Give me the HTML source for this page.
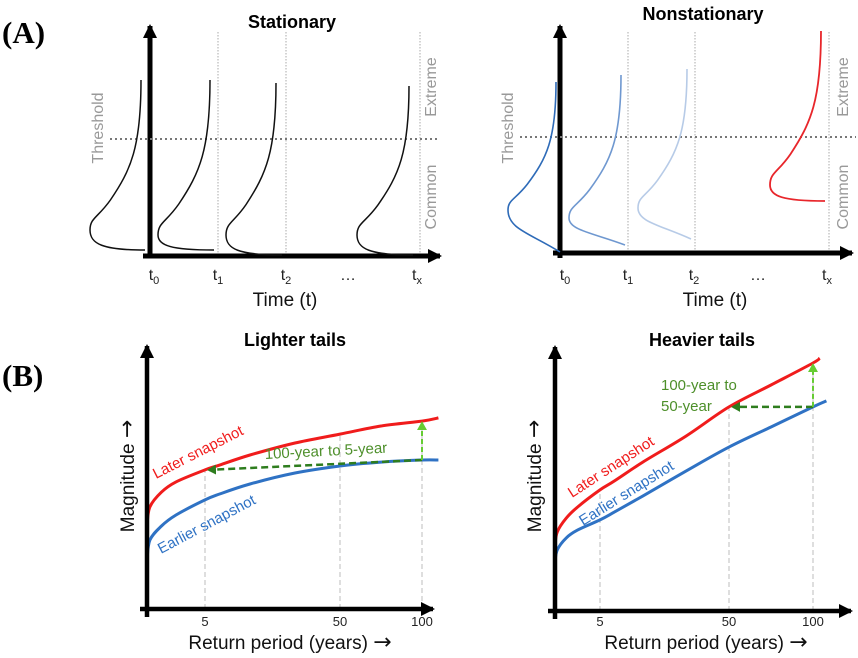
<!DOCTYPE html>
<html><head><meta charset="utf-8"><style>
html,body{margin:0;padding:0;background:#fff;}
svg{display:block;font-family:"Liberation Sans",sans-serif;}
</style></head><body>
<svg id="fig" width="858" height="658" viewBox="0 0 858 658">
<defs>
<marker id="ahBig" markerWidth="16" markerHeight="16" refX="12" refY="8" orient="auto" markerUnits="userSpaceOnUse"><path d="M0,1 L14,8 L0,15 Z" fill="#000"/></marker>
<marker id="agD" markerWidth="10" markerHeight="10" refX="7" refY="5" orient="auto" markerUnits="userSpaceOnUse"><path d="M0,0 L9,5 L0,10 Z" fill="#2e7d1e"/></marker>
<marker id="agL" markerWidth="10" markerHeight="10" refX="7" refY="5" orient="auto" markerUnits="userSpaceOnUse"><path d="M0,0 L9,5 L0,10 Z" fill="#66cc33"/></marker>
</defs>

<text x="2" y="43" font-family="Liberation Serif" font-weight="bold" font-size="31">(A)</text>
<text x="2" y="386" font-family="Liberation Serif" font-weight="bold" font-size="31">(B)</text>

<g id="pA1"></g>
<g id="pA2"></g>
<g id="pB1"></g>
<g id="pB2"></g>
</svg>
<script>
// ---- Panel B data (return period in years, magnitude in arbitrary units) ----
const returnPeriods = [1, 1.2, 2, 3, 5, 10, 20, 35, 50, 75, 100, 110];
const lighterLater   = [3.22, 3.91, 4.48, 4.87, 5.33, 5.52, 5.90, 6.36, 6.70, 7.01, 7.20, 7.32];
const lighterEarlier = [1.88, 2.64, 3.18, 3.60, 4.18, 4.41, 4.79, 5.21, 5.48, 5.63, 5.71, 5.71];
const heavierPeriods = [1, 1.2, 2, 3, 5, 10, 20, 35, 50, 75, 100, 104];
const heavierLater   = [2.53, 3.03, 3.56, 3.98, 4.64, 4.98, 5.71, 6.70, 7.82, 8.66, 9.50, 9.69];
const heavierEarlierPeriods = [1, 1.2, 2, 3, 5, 10, 20, 35, 50, 75, 100, 108];
const heavierEarlier = [1.88, 2.34, 2.80, 3.10, 3.49, 3.79, 4.41, 5.36, 6.28, 7.05, 7.82, 8.05];
const tickValues = [5, 50, 100];
const tickLabels = ["5", "50", "100"];
// ---- Panel A data ----
const timeLabels = ["t0", "t1", "t2", "…", "tx"];

const NS = "http://www.w3.org/2000/svg";
function mk(parent, tag, attrs, text){
  const e = document.createElementNS(NS, tag);
  for (const k in attrs) e.setAttribute(k, attrs[k]);
  if (text !== undefined) e.textContent = text;
  parent.appendChild(e);
  return e;
}
function pwScale(domain, range){
  return v => {
    let i = 0;
    while (i < domain.length - 2 && v > domain[i+1]) i++;
    const t = (v - domain[i]) / (domain[i+1] - domain[i]);
    return range[i] + t * (range[i+1] - range[i]);
  };
}
function smooth(pts){
  let d = "M" + pts[0][0].toFixed(1) + "," + pts[0][1].toFixed(1);
  for (let i = 0; i < pts.length - 1; i++){
    const p0 = pts[Math.max(0,i-1)], p1 = pts[i], p2 = pts[i+1], p3 = pts[Math.min(pts.length-1,i+2)];
    const c1 = [p1[0] + (p2[0]-p0[0])/6, p1[1] + (p2[1]-p0[1])/6];
    const c2 = [p2[0] - (p3[0]-p1[0])/6, p2[1] - (p3[1]-p1[1])/6];
    d += ` C${c1[0].toFixed(1)},${c1[1].toFixed(1)} ${c2[0].toFixed(1)},${c2[1].toFixed(1)} ${p2[0].toFixed(1)},${p2[1].toFixed(1)}`;
  }
  return d;
}
function distPath(xr, yTop, yPeak, yBot, w, xEnd, diag){
  const h = yPeak - yTop, d = yBot - yPeak;
  let s = `M${xr},${yTop} C${xr},${yTop+0.45*h} ${xr-0.2*w},${yTop+0.6*h} ${xr-0.6*w},${yTop+0.8*h} ` +
    `C${xr-0.85*w},${yTop+0.92*h} ${xr-w},${yPeak-0.08*h} ${xr-w},${yPeak} `;
  if (diag) s += `C${xr-w},${yPeak+0.45*d} ${xr-0.55*w},${yBot-0.45*d} ${xEnd},${yBot}`;
  else s += `C${xr-w},${yPeak+0.7*d} ${xr-0.75*w},${yBot} ${xEnd},${yBot}`;
  return s;
}
function timeLabel(g, x, y, lbl){
  const t = mk(g, "text", {x:x, y:y, "font-size":16, "text-anchor":"middle", fill:"#222"});
  if (lbl.length === 2){
    t.textContent = lbl[0];
    mk(t, "tspan", {"font-size":11, dy:4}, lbl[1]);
  } else t.textContent = lbl;
  
  
  return t;
}

// ---------- Panel A builder ----------
function panelA(g, cfg){
  const ya = mk(g, "line", {x1:cfg.ax, y1:258, x2:cfg.ax, y2:cfg.ytop, stroke:"#000", "stroke-width":5, "marker-end":"url(#ahBig)"});
  
  
  const xa = mk(g, "line", {x1:cfg.ax-7, y1:cfg.ay, x2:cfg.xend, y2:cfg.ay, stroke:"#000", "stroke-width":5, "marker-end":"url(#ahBig)"});
  
  
  cfg.vlines.forEach(x => {
    const l = mk(g, "line", {x1:x, y1:32, x2:x, y2:cfg.ay-2, stroke:"#aaa", "stroke-width":1, "stroke-dasharray":"1.5,1.5"});
    
    
  });
  const th = mk(g, "line", {x1:cfg.thx1, y1:cfg.thy, x2:cfg.thx2, y2:cfg.thy, stroke:"#777", "stroke-width":2, "stroke-dasharray":"2,3"});
  
  
  cfg.curves.forEach(c => {
    const p = mk(g, "path", {d:distPath(c[0],c[1],c[2],c[3],c[4],c[5],c[8]), fill:"none", stroke:c[6], "stroke-width":c[7]||1.5});
    
    
  });
  timeLabels.forEach((lbl, i) => timeLabel(g, cfg.tickx[i], 280, lbl));
  const tt = mk(g, "text", {x:cfg.titleX, y:cfg.titleY, "font-size":18, "font-weight":"bold", "text-anchor":"middle"}, cfg.title);
  
  
  const xt = mk(g, "text", {x:cfg.xtX, y:306, "font-size":19, "text-anchor":"middle", fill:"#111"}, "Time (t)");
  
  
  const thl = mk(g, "text", {x:0, y:0, "font-size":16, "text-anchor":"middle", fill:"#999", transform:`translate(${cfg.thLx},${128}) rotate(-90)`}, "Threshold");
  
  
  const ex = mk(g, "text", {x:0, y:0, "font-size":16, "text-anchor":"middle", fill:"#999", transform:`translate(${cfg.sideX},${87}) rotate(-90)`}, "Extreme");
  
  
  const co = mk(g, "text", {x:0, y:0, "font-size":16, "text-anchor":"middle", fill:"#999", transform:`translate(${cfg.sideX},${197}) rotate(-90)`}, "Common");
  
  
}
panelA(document.getElementById("pA1"), {
  ax:150, ay:256, ytop:26, xend:440, vlines:[218,286,420], thx1:110, thx2:440, thy:139,
  curves:[[141,80,230,250,51,145,"#111"],[210,80,235,250,52,214,"#111"],[276,83,235,255,50,282,"#111"],[409,86,235,255,52,413,"#111"]],
  tickx:[154,218,286,348,417], title:"Stationary", titleX:292, titleY:28, xtX:285,
  thLx:103, sideX:436
});
panelA(document.getElementById("pA2"), {
  ax:560, ay:253, ytop:26, xend:852, vlines:[628,695,829], thx1:520, thx2:856, thy:137,
  curves:[[556,82,210,252,48,560,"#2e6bb8",1.6,true],[621,75,218,245,52,625,"#6f98d0",1.6,true],[687,69,208,239,49,691,"#b7cbe7",1.6,true],[821,31,185,201,51,825,"#e8262b",1.8,false]],
  tickx:[565,628,694,758,827], title:"Nonstationary", titleX:703, titleY:20, xtX:715,
  thLx:513, sideX:848
});

// ---------- Panel B builder ----------
function panelB(g, cfg){
  const xs = pwScale([1,5,50,100,200], cfg.xr);
  const ys = m => cfg.ay - m * 26.1;
  tickValues.forEach((v, i) => {
    const x = xs(v);
    const l = mk(g, "line", {x1:x, y1:cfg.ay, x2:x, y2:cfg.gridTop[i], stroke:"#c8c8c8", "stroke-width":1.2, "stroke-dasharray":"5,3"});
    
    
    const t = mk(g, "text", {x:x, y:626, "font-size":13, "text-anchor":"middle", fill:"#222"}, tickLabels[i]);
    
    
  });
  function line(px, vals, color, name){
    const pts = px.map((p, i) => [xs(p), ys(vals[i])]);
    const p = mk(g, "path", {d:smooth(pts), fill:"none", stroke:color, "stroke-width":3, "stroke-linejoin":"round"});
    
    
  }
  line(cfg.pE, cfg.early, "#2f72c4", "earlier-snapshot-line");
  line(cfg.pL, cfg.late, "#f01c1c", "later-snapshot-line");
  const ya = mk(g, "line", {x1:cfg.ax, y1:cfg.ay+8, x2:cfg.ax, y2:cfg.ytop, stroke:"#000", "stroke-width":4.5, "marker-end":"url(#ahBig)"});
  
  
  const xa = mk(g, "line", {x1:cfg.ax-7, y1:cfg.ay, x2:cfg.xend, y2:cfg.ay, stroke:"#000", "stroke-width":4.5, "marker-end":"url(#ahBig)"});
  
  
  const x100 = xs(100), xT = xs(cfg.target);
  const yE100 = ys(cfg.early[cfg.pE.indexOf(100)]);
  const yLT = ys(cfg.late[cfg.pL.indexOf(cfg.target)]);
  const yL100 = ys(cfg.late[cfg.pL.indexOf(100)]);
  const h = mk(g, "line", {x1:x100, y1:yE100, x2:xT+4, y2:yLT, stroke:"#2e7d1e", "stroke-width":2.5, "stroke-dasharray":"7,4", "marker-end":"url(#agD)"});
  
  
  const v = mk(g, "line", {x1:x100, y1:yE100, x2:x100, y2:yL100+2, stroke:"#66cc33", "stroke-width":2, "stroke-dasharray":"5,3", "marker-end":"url(#agL)"});
  
  
  const tt = mk(g, "text", {x:cfg.titleX, y:346, "font-size":18, "font-weight":"bold", "text-anchor":"middle"}, cfg.title);
  
  
  const xt = mk(g, "text", {x:cfg.xtX, y:649, "font-size":19, "text-anchor":"middle", fill:"#111"}, "Return period (years) ");
  mk(xt, "tspan", {"font-family":"DejaVu Sans", "font-size":22}, "→");
  
  
  const yt = mk(g, "text", {x:0, y:0, "font-size":19, "text-anchor":"middle", fill:"#111", transform:`translate(${cfg.ytX},476) rotate(-90)`}, "Magnitude ");
  mk(yt, "tspan", {"font-family":"DejaVu Sans", "font-size":22}, "→");
  
  
  const lt = mk(g, "text", {x:0, y:0, "font-size":15, fill:"#f01c1c", transform:cfg.laterT}, "Later snapshot");
  
  
  const et = mk(g, "text", {x:0, y:0, "font-size":15, fill:"#2f72c4", transform:cfg.earlierT}, "Earlier snapshot");
  
  
  cfg.note.forEach(n => {
    const t = mk(g, "text", {x:0, y:0, "font-size":15, fill:"#4d8f2a", transform:n[1]}, n[0]);
    
    
  });
}
panelB(document.getElementById("pB1"), {
  xr:[147,205,340,422,586], ax:147, ay:609, ytop:346, xend:433,
  pL:returnPeriods, late:lighterLater, pE:returnPeriods, early:lighterEarlier, target:5,
  gridTop:[470,434,420], title:"Lighter tails", titleX:295, xtX:290, ytX:134,
  laterT:"translate(156,479) rotate(-27)", earlierT:"translate(161,554) rotate(-28)",
  note:[["100-year to 5-year","translate(265,459) rotate(-3)"]]
});
panelB(document.getElementById("pB2"), {
  xr:[555,600,729,813,981], ax:555, ay:611, ytop:347, xend:851,
  pL:heavierPeriods, late:heavierLater, pE:heavierEarlierPeriods, early:heavierEarlier, target:50,
  gridTop:[490,407,363], title:"Heavier tails", titleX:702, xtX:706, ytX:541,
  laterT:"translate(572,498) rotate(-33)", earlierT:"translate(583,526) rotate(-32)",
  note:[["100-year to","translate(661,390)"],["50-year","translate(661,411)"]]
});
</script>
</body></html>
